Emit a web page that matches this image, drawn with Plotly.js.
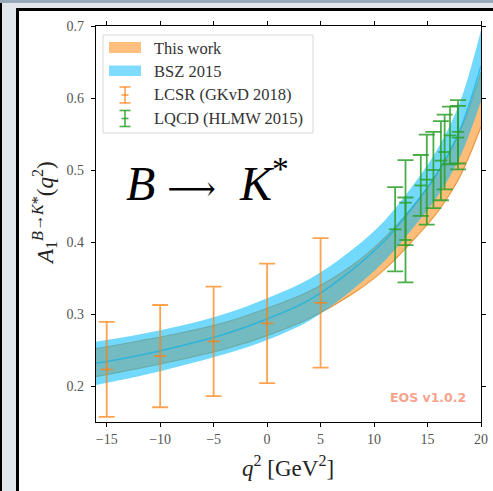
<!DOCTYPE html>
<html>
<head>
<meta charset="utf-8">
<script src="https://cdn.plot.ly/plotly-3.0.1.min.js"></script>
<style>
  html, body { margin:0; padding:0; width:493px; height:491px; overflow:hidden; background:#e2e7ec; }
  #topband { position:absolute; left:0; top:0; width:493px; height:3px; background:#98a9bc; }
  #leftline { position:absolute; left:0; top:3px; width:2px; height:488px; background:#000; }
  #panel { position:absolute; left:16px; top:8px; width:480px; height:490px; background:#fff; border-left:3px solid #000; border-top:3px solid #000; }
  #chart { position:absolute; left:0; top:0; width:493px; height:491px; }
</style>
</head>
<body>
<div id="topband"></div>
<div id="leftline"></div>
<div id="panel"></div>
<div id="chart"></div>
<script>
// ---- data ----
const q2Band = [-16, -12, -8, -4, 0, 4, 8, 11, 14, 16, 18, 20];
const thisWorkLower = [0.213, 0.2245, 0.237, 0.251, 0.270, 0.294, 0.328, 0.362, 0.408, 0.443, 0.490, 0.560];
const thisWorkUpper = [0.252, 0.2625, 0.274, 0.288, 0.308, 0.332, 0.368, 0.406, 0.456, 0.497, 0.552, 0.636];
const bszLower = [0.2015, 0.2135, 0.228, 0.244, 0.264, 0.291, 0.334, 0.374, 0.426, 0.465, 0.517, 0.596];
const bszUpper = [0.2615, 0.2715, 0.284, 0.300, 0.322, 0.349, 0.390, 0.430, 0.486, 0.531, 0.593, 0.694];
const bszCentral = [0.2315, 0.2425, 0.256, 0.272, 0.293, 0.320, 0.362, 0.402, 0.456, 0.498, 0.555, 0.645];

const lcsrQ2 = [-15, -10, -5, 0, 5];
const lcsrVal = [0.223, 0.2415, 0.262, 0.287, 0.3155];
const lcsrErr = [0.066, 0.071, 0.076, 0.083, 0.090];

const lqcdQ2 = [11.97, 12.94, 12.94, 14.37, 14.93, 15.55, 16.25, 16.6, 17.1, 17.85, 17.85];
const lqcdVal = [0.4176, 0.4546, 0.4028, 0.4785, 0.4866, 0.500, 0.513, 0.525, 0.548, 0.553, 0.545];
const lqcdErr = [0.0585, 0.059, 0.059, 0.0423, 0.0625, 0.053, 0.055, 0.052, 0.040, 0.044, 0.044];

const xTicks = [-15, -10, -5, 0, 5, 10, 15, 20];
const yTicks = [0.2, 0.3, 0.4, 0.5, 0.6, 0.7];
const legendLabels = ['This work', 'BSZ 2015', 'LCSR (GKvD 2018)', 'LQCD (HLMW 2015)'];

// ---- styles ----
const ORANGE_FILL = 'rgba(255,128,0,0.52)';
const ORANGE_EDGE = 'rgba(230,125,20,0.7)';
const BLUE_FILL = 'rgba(0,185,250,0.55)';
const BLUE_LINE = 'rgba(0,175,235,0.6)';
const LCSR_COL = 'rgba(255,127,14,0.72)';
const LQCD_COL = 'rgba(44,160,44,0.85)';
const SERIF = '"Liberation Serif", "DejaVu Serif", serif';

const traces = [
  {x: q2Band, y: thisWorkLower, mode: 'lines', line: {color: ORANGE_EDGE, width: 1.2, shape: 'spline'}, showlegend: false, hoverinfo: 'skip'},
  {x: q2Band, y: thisWorkUpper, mode: 'lines', fill: 'tonexty', fillcolor: ORANGE_FILL, line: {color: ORANGE_EDGE, width: 1.2, shape: 'spline'}, showlegend: false, hoverinfo: 'skip'},
  {x: q2Band, y: bszLower, mode: 'lines', line: {color: 'rgba(0,0,0,0)', width: 0, shape: 'spline'}, showlegend: false, hoverinfo: 'skip'},
  {x: q2Band, y: bszUpper, mode: 'lines', fill: 'tonexty', fillcolor: BLUE_FILL, line: {color: 'rgba(0,0,0,0)', width: 0, shape: 'spline'}, showlegend: false, hoverinfo: 'skip'},
  {x: q2Band, y: bszCentral, mode: 'lines', line: {color: BLUE_LINE, width: 1.5, shape: 'spline'}, showlegend: false, hoverinfo: 'skip'},
  {x: lcsrQ2, y: lcsrVal, mode: 'markers', marker: {symbol: 'line-ew', size: 9, color: LCSR_COL, line: {color: LCSR_COL, width: 1.8}},
   error_y: {type: 'data', array: lcsrErr, visible: true, color: LCSR_COL, thickness: 1.8, width: 8}, showlegend: false},
  {x: lqcdQ2, y: lqcdVal, mode: 'markers', marker: {symbol: 'line-ew', size: 9, color: LQCD_COL, line: {color: LQCD_COL, width: 1.8}},
   error_y: {type: 'data', array: lqcdErr, visible: true, color: LQCD_COL, thickness: 1.8, width: 8}, showlegend: false}
];

// pixel -> paper helpers for decorations (plot area: x 96..481, y 26..422)
const L = 96, R = 481, T = 26, B = 422;
const px = x => (x - L) / (R - L);
const py = y => (B - y) / (B - T);

const shapes = [];
const annotations = [];

// legend box
shapes.push({type: 'rect', xref: 'paper', yref: 'paper', x0: px(103), x1: px(313), y0: py(133), y1: py(35),
  line: {color: '#d8d8d8', width: 1}, fillcolor: 'rgba(255,255,255,0.85)', layer: 'above'});
// swatches
shapes.push({type: 'rect', xref: 'paper', yref: 'paper', x0: px(109), x1: px(141), y0: py(53), y1: py(42), line: {width: 0}, fillcolor: 'rgba(255,192,127,1)', layer: 'above'});
shapes.push({type: 'rect', xref: 'paper', yref: 'paper', x0: px(109), x1: px(141), y0: py(76), y1: py(65.5), line: {width: 0}, fillcolor: 'rgba(128,220,255,1)', layer: 'above'});
// errorbar glyphs
function ebGlyph(cy, col) {
  const cx = 125;
  shapes.push({type: 'line', xref: 'paper', yref: 'paper', x0: px(cx), x1: px(cx), y0: py(cy - 8), y1: py(cy + 8), line: {color: col, width: 1.6}, layer: 'above'});
  shapes.push({type: 'line', xref: 'paper', yref: 'paper', x0: px(cx - 5.5), x1: px(cx + 5.5), y0: py(cy - 8), y1: py(cy - 8), line: {color: col, width: 1.6}, layer: 'above'});
  shapes.push({type: 'line', xref: 'paper', yref: 'paper', x0: px(cx - 5.5), x1: px(cx + 5.5), y0: py(cy + 8), y1: py(cy + 8), line: {color: col, width: 1.6}, layer: 'above'});
  shapes.push({type: 'line', xref: 'paper', yref: 'paper', x0: px(cx - 3.5), x1: px(cx + 3.5), y0: py(cy), y1: py(cy), line: {color: col, width: 1.6}, layer: 'above'});
}
ebGlyph(95, LCSR_COL);
ebGlyph(118.5, LQCD_COL);

const legendY = [48, 71.5, 95, 118.5];
legendLabels.forEach((t, i) => {
  annotations.push({text: t, xref: 'paper', yref: 'paper', x: px(152), y: py(legendY[i]), xanchor: 'left', yanchor: 'middle',
    showarrow: false, font: {family: SERIF, size: 16.5, color: '#333'}});
});

// B -> K*
annotations.push({text: '<i>B</i>&nbsp;<span style="font-size:34px">⟶</span>&nbsp;&nbsp;<i>K</i><sup>*</sup>', xref: 'paper', yref: 'paper', x: px(124), y: py(180),
  xanchor: 'left', yanchor: 'middle', showarrow: false, font: {family: SERIF, size: 48, color: '#000'}});
// EOS label
annotations.push({text: '<b>EOS v1.0.2</b>', xref: 'paper', yref: 'paper', x: px(468), y: py(397),
  xanchor: 'right', yanchor: 'middle', showarrow: false, font: {family: 'DejaVu Sans, sans-serif', size: 12.5, color: '#f7a38c'}});
// axis titles
annotations.push({text: '<i>A</i><sub>1</sub><sup><i>B</i>→<i>K</i>*</sup>(<i>q</i><sup>2</sup>)', xref: 'paper', yref: 'paper',
  x: px(44), y: py(213), xanchor: 'center', yanchor: 'middle', textangle: -90, showarrow: false,
  font: {family: SERIF, size: 23, color: '#222'}});
annotations.push({text: '<i>q</i><sup>2</sup> [GeV<sup>2</sup>]', xref: 'paper', yref: 'paper',
  x: px(288), y: py(467), xanchor: 'center', yanchor: 'middle', showarrow: false,
  font: {family: SERIF, size: 23, color: '#222'}});

const axisCommon = {
  showline: true, linecolor: '#000', linewidth: 1.3, mirror: 'ticks',
  ticks: 'outside', ticklen: 4, tickwidth: 1, tickcolor: '#000',
  showgrid: false, zeroline: false,
  tickfont: {family: SERIF, size: 14, color: '#555'}
};

const layout = {
  width: 493, height: 491,
  margin: {l: L, r: 493 - R, t: T, b: 491 - B},
  paper_bgcolor: 'rgba(0,0,0,0)', plot_bgcolor: '#fff',
  showlegend: false,
  xaxis: Object.assign({}, axisCommon, {range: [-16, 20], tickvals: xTicks, ticktext: xTicks.map(v => v < 0 ? '\u2212' + Math.abs(v) : String(v))}),
  yaxis: Object.assign({}, axisCommon, {range: [0.15, 0.7], tickvals: yTicks, ticktext: yTicks.map(v => v.toFixed(1)), ticklabelstandoff: 4}),
  shapes: shapes,
  annotations: annotations
};

Plotly.newPlot('chart', traces, layout, {displayModeBar: false, staticPlot: true});
</script>
</body>
</html>
